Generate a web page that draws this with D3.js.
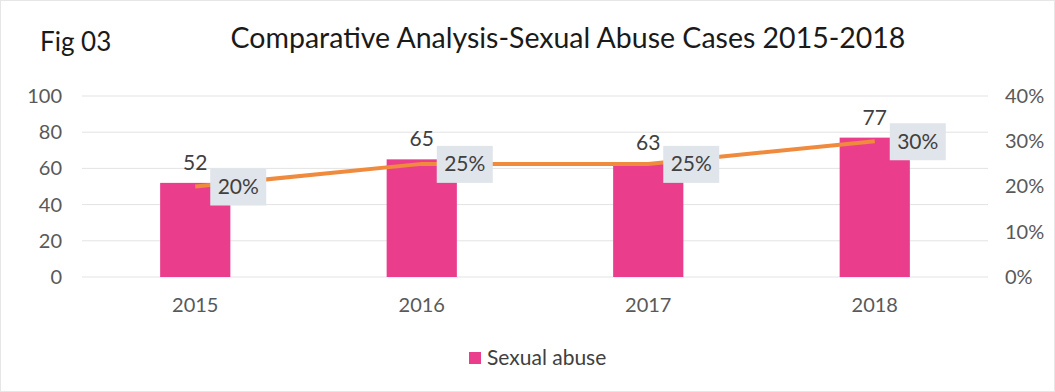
<!DOCTYPE html>
<html>
<head>
<meta charset="utf-8">
<script src="https://cdn.jsdelivr.net/npm/d3@7"></script>
<style>
  body { margin: 0; background: #fff; }
  text { font-family: Lato, "Open Sans", sans-serif; }
</style>
</head>
<body>
<svg width="1055" height="392"></svg>
<script>
var years = ["2015", "2016", "2017", "2018"];
var cases = [52, 65, 63, 77];
var share = [0.20, 0.25, 0.25, 0.30];
var leftTicks = [0, 20, 40, 60, 80, 100];
var rightTicks = [0, 0.1, 0.2, 0.3, 0.4];

var svg = d3.select("svg"),
  width = +svg.attr("width"),
  height = +svg.attr("height");

var margin = {left: 82, right: 67, top: 96, bottom: 115};

// light frame around the picture
svg.append("rect")
  .attr("x", 0.5).attr("y", 0.5)
  .attr("width", width - 1).attr("height", height - 1)
  .attr("fill", "#fff").attr("stroke", "#e6e6e6");

var x = d3.scaleBand()
  .domain(years)
  .range([margin.left, width - margin.right])
  .paddingInner(0.69).paddingOuter(0.345);

var y = d3.scaleLinear().domain([0, 100]).range([height - margin.bottom, margin.top]);
var y2 = d3.scaleLinear().domain([0, 0.4]).range([height - margin.bottom, margin.top]);

// gridlines
svg.append("g")
  .selectAll("line")
  .data(leftTicks)
  .enter().append("line")
  .attr("x1", margin.left).attr("x2", width - margin.right)
  .attr("y1", d => y(d)).attr("y2", d => y(d))
  .attr("stroke", "#e3e3e3").attr("stroke-width", 1);

// left axis
var leftAxis = svg.append("g")
  .attr("transform", "translate(62,0)")
  .call(d3.axisLeft(y).tickValues(leftTicks).tickSize(0).tickPadding(0));
leftAxis.select(".domain").remove();
leftAxis.selectAll("text").attr("font-size", 20).attr("fill", "#595959")
  .style("font-family", "Lato, sans-serif");

// right axis
var rightAxis = svg.append("g")
  .attr("transform", "translate(1005,0)")
  .call(d3.axisRight(y2).tickValues(rightTicks).tickSize(0).tickPadding(0).tickFormat(d3.format(".0%")));
rightAxis.select(".domain").remove();
rightAxis.selectAll("text").attr("font-size", 20).attr("fill", "#595959")
  .style("font-family", "Lato, sans-serif");

// bottom axis
var bottomAxis = svg.append("g")
  .attr("transform", "translate(0," + (height - margin.bottom) + ")")
  .call(d3.axisBottom(x).tickSize(0).tickPadding(21));
bottomAxis.select(".domain").remove();
bottomAxis.selectAll("text").attr("font-size", 20).attr("fill", "#595959")
  .style("font-family", "Lato, sans-serif");

// bars
svg.append("g")
  .selectAll("rect")
  .data(cases)
  .enter().append("rect")
  .attr("x", (d, i) => x(years[i]))
  .attr("y", d => y(d))
  .attr("width", x.bandwidth())
  .attr("height", d => y(0) - y(d))
  .attr("fill", "#ea3e8d");

// bar value labels
svg.append("g")
  .selectAll("text")
  .data(cases)
  .enter().append("text")
  .attr("x", (d, i) => x(years[i]) + x.bandwidth() / 2)
  .attr("y", d => y(d) - 13)
  .attr("text-anchor", "middle")
  .attr("font-size", 21)
  .attr("fill", "#404040")
  .text(d => d);

// line
var line = d3.line()
  .x((d, i) => x(years[i]) + x.bandwidth() / 2)
  .y(d => y2(d));

svg.append("path")
  .datum(share)
  .attr("d", line)
  .attr("fill", "none")
  .attr("stroke", "#f08a3c")
  .attr("stroke-width", 4);

// percent labels with boxes
var pl = svg.append("g")
  .selectAll("g")
  .data(share)
  .enter().append("g")
  .attr("transform", (d, i) => "translate(" + (x(years[i]) + x.bandwidth() / 2 + 43) + "," + y2(d) + ")");

pl.append("rect")
  .attr("x", -28).attr("y", -18)
  .attr("width", 56).attr("height", 37)
  .attr("fill", "#dfe5ea");

pl.append("text")
  .attr("text-anchor", "middle")
  .attr("dy", "0.35em")
  .attr("font-size", 21)
  .attr("fill", "#404040")
  .text(d => d3.format(".0%")(d));

// title
svg.append("text")
  .attr("x", 40).attr("y", 51)
  .attr("font-size", 26)
  .attr("fill", "#1a1a1a")
  .text("Fig 03");

svg.append("text")
  .attr("x", 568).attr("y", 48)
  .attr("text-anchor", "middle")
  .attr("font-size", 28.5)
  .attr("fill", "#1a1a1a")
  .text("Comparative Analysis-Sexual Abuse Cases 2015-2018");

// legend
var legend = svg.append("g").attr("transform", "translate(469,352)");
legend.append("rect")
  .attr("width", 12).attr("height", 12)
  .attr("fill", "#ea3e8d");
legend.append("text")
  .attr("x", 18).attr("y", 6)
  .attr("dy", "0.35em")
  .attr("font-size", 21)
  .attr("fill", "#404040")
  .text("Sexual abuse");
</script>
</body>
</html>
